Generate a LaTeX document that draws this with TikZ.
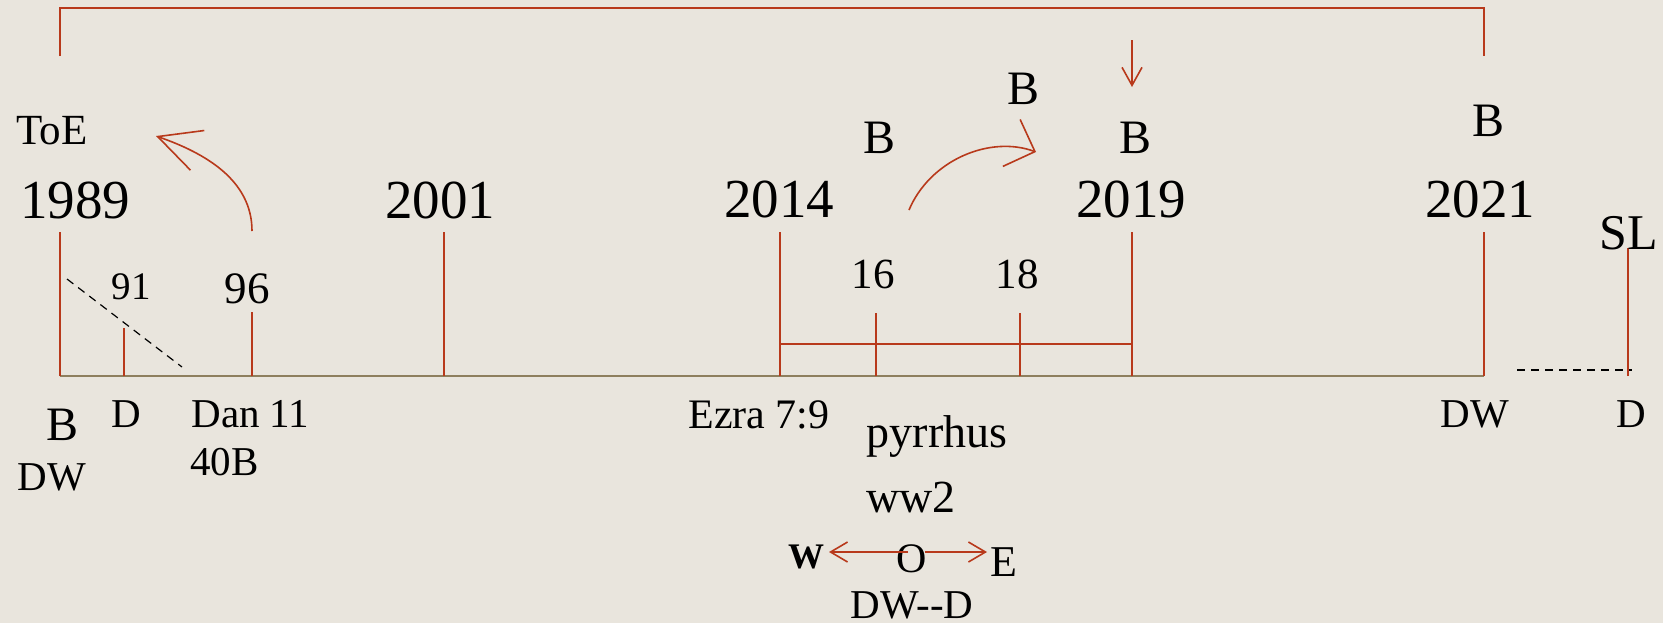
\documentclass[tikz,border=0pt]{standalone}
\usepackage{fontspec}
\setmainfont{Liberation Serif}
\usetikzlibrary{arrows.meta}
\definecolor{paper}{RGB}{233,229,221}
\definecolor{rust}{RGB}{184,57,27}
\definecolor{axisbrown}{RGB}{142,127,94}
\tikzset{
	lbl/.style={inner sep=0pt,anchor=base},
	yearlbl/.style={lbl,font=\fontsize{27.5}{30}\selectfont},
	bigletter/.style={lbl,font=\fontsize{24}{28}\selectfont},
	note/.style={lbl,font=\fontsize{20.5}{24}\selectfont},
	yeartick/.style={draw=rust,line width=0.8pt},
	dashline/.style={draw=black,line width=0.6pt,dash pattern=on 4pt off 3pt}
}
\begin{document}
\begin{tikzpicture}[x=0.5pt,y=-0.5pt]
	\fill[paper] (0,0) rectangle (1663,623);
	\useasboundingbox (0,0) rectangle (1663,623);
	% axis points
	\coordinate (a89) at (60,376);
	\coordinate (a91) at (124,376);
	\coordinate (a96) at (252,376);
	\coordinate (a01) at (444,376);
	\coordinate (a14) at (780,376);
	\coordinate (a16) at (876,376);
	\coordinate (a18) at (1020,376);
	\coordinate (a19) at (1132,376);
	\coordinate (a21) at (1484,376);
	\coordinate (aSL) at (1628,376);
	% tick tops
	\coordinate (t89) at (60,232);
	\coordinate (t91) at (124,328);
	\coordinate (t96) at (252,312);
	\coordinate (t01) at (444,232);
	\coordinate (t14) at (780,232);
	\coordinate (t16) at (876,313);
	\coordinate (t18) at (1020,313);
	\coordinate (t19) at (1132,232);
	\coordinate (t21) at (1484,232);
	\coordinate (tSL) at (1628,248);
	% bracket and bar
	\coordinate (b1) at (60,56);
	\coordinate (b2) at (60,8);
	\coordinate (b3) at (1484,8);
	\coordinate (b4) at (1484,56);
	\coordinate (h14) at (780,344);
	\coordinate (h19) at (1132,344);

	\draw[draw=rust,line width=1pt] (b1) -- (b2) -- (b3) -- (b4);
	\draw[draw=axisbrown,line width=1pt] (a89) -- (a21);
	\foreach \y in {89,91,96,01,14,16,18,19,21,SL}
		\draw[yeartick] (a\y) -- (t\y);
	\draw[yeartick] (h14) -- (h19);

	\coordinate (d1) at (67,279);
	\coordinate (d2) at (182,367);
	\coordinate (e1) at (1517,370);
	\coordinate (e2) at (1632,370);
	\draw[dashline] (d1) -- (d2);
	\draw[dashline] (e1) -- (e2);

	% years
	\node[yearlbl] (y89) at (75,218) {1989};
	\node[yearlbl] (y01) at (440,218) {2001};
	\node[yearlbl] (y14) at (779,217) {2014};
	\node[yearlbl] (y19) at (1131,217) {2019};
	\node[yearlbl] (y21) at (1480,217) {2021};
	\node[lbl,font=\fontsize{21.5}{24}\selectfont] (toe) at (52,144) {ToE};
	\node[lbl,font=\fontsize{19.5}{22}\selectfont] (n91) at (131,299) {91};
	\node[lbl,font=\fontsize{22.5}{26}\selectfont] (n96) at (247,303) {96};
	\node[lbl,font=\fontsize{21.5}{25}\selectfont] (n16) at (873,288) {16};
	\node[lbl,font=\fontsize{21.5}{25}\selectfont] (n18) at (1017,288) {18};
	\node[bigletter] (b16) at (879,153) {B};
	\node[bigletter] (btop) at (1023,104) {B};
	\node[bigletter] (b19) at (1135,153) {B};
	\node[bigletter] (b21) at (1488,136) {B};
	\node[lbl,font=\fontsize{25}{28}\selectfont] (sl) at (1629,249) {SL};

	% below the axis
	\node[lbl,font=\fontsize{24}{26}\selectfont] (bl) at (63,440) {B};
	\node[note] (dwl) at (52,490) {DW};
	\node[note] (dl) at (126,427) {D};
	\node[note,anchor=base west] (dan) at (191,427) {Dan 11};
	\node[note,anchor=base west] (b40) at (190,475) {40B};
	\node[lbl,font=\fontsize{21}{24}\selectfont] (ezra) at (759,428) {Ezra 7:9};
	\node[lbl,font=\fontsize{23}{26}\selectfont] (pyr) at (937,447) {pyrrhus};
	\node[lbl,font=\fontsize{23}{26}\selectfont] (ww) at (911,512) {ww2};
	\node[lbl,font=\fontsize{18}{22}\selectfont\bfseries] (w) at (806,568) {W};
	\node[lbl,font=\fontsize{21}{24}\selectfont] (o) at (912,572) {O};
	\node[lbl,font=\fontsize{22}{26}\selectfont] (e) at (1004,576) {E};
	\node[note] (dwd) at (912,618) {DW-{}-D};
	\node[note] (dwr) at (1475,427) {DW};
	\node[note] (dr) at (1631,427) {D};

	% arrows
	\coordinate (s96) at (252,231);
	\coordinate (p96) at (156,136);
	\draw[draw=rust,line width=0.8pt,-{Straight Barb[length=21pt,width=21pt]}]
		(s96) .. controls (252,180) and (205,153) .. (p96);
	\coordinate (s16) at (909,210);
	\coordinate (p16) at (1036,152);
	\draw[draw=rust,line width=0.8pt,-{Straight Barb[length=12.5pt,width=25pt]}]
		(s16) .. controls (930,160) and (990,135) .. (p16);
	\coordinate (s19) at (1132,40);
	\coordinate (p19) at (1132,87);
	\draw[draw=rust,line width=0.8pt,-{Straight Barb[length=9pt,width=10pt]}] (s19) -- (p19);
	\coordinate (ow) at (908,552);
	\coordinate (pw) at (829,552);
	\coordinate (oe) at (925,552);
	\coordinate (pe) at (987,552);
	\draw[draw=rust,line width=0.8pt,-{Straight Barb[length=8.5pt,width=10pt]}] (ow) -- (pw);
	\draw[draw=rust,line width=0.8pt,-{Straight Barb[length=8.5pt,width=10pt]}] (oe) -- (pe);
\end{tikzpicture}
\end{document}
